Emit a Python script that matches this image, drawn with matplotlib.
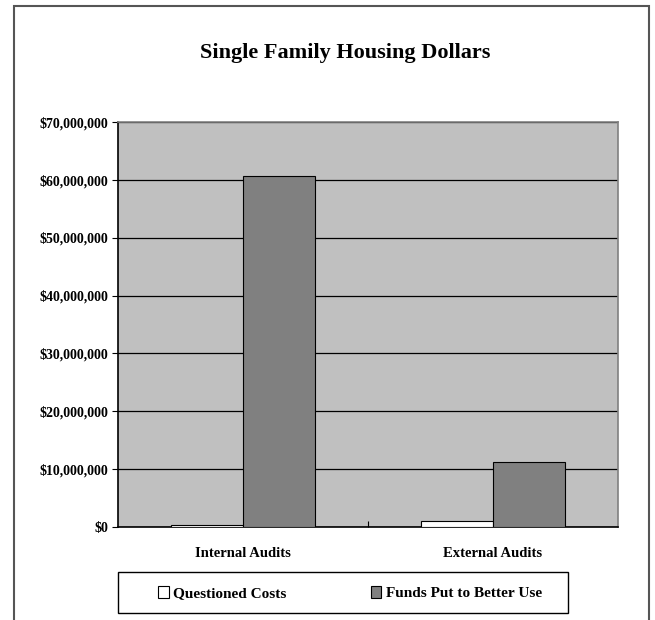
import matplotlib.pyplot as plt
import numpy as np
from matplotlib.patches import Rectangle

categories = ["Internal Audits", "External Audits"]
questioned_costs = [350000, 1100000]
funds_better_use = [60600000, 11300000]
series_names = ["Questioned Costs", "Funds Put to Better Use"]
y_ticks = [0, 10000000, 20000000, 30000000, 40000000, 50000000, 60000000, 70000000]
y_labels = ["$0", "$10,000,000", "$20,000,000", "$30,000,000", "$40,000,000",
            "$50,000,000", "$60,000,000", "$70,000,000"]

plt.rcParams['font.family'] = ['Liberation Serif', 'DejaVu Serif']
plt.rcParams['font.weight'] = 'bold'

fig = plt.figure(figsize=(6.55, 6.2), dpi=100)
W, H = 655, 620

# outer chart frame (runs off the bottom)
fig.add_artist(Rectangle((14 / W, -0.05), (649 - 14) / W, (1 - 6 / H) + 0.05,
                         transform=fig.transFigure, fill=False,
                         edgecolor="#555555", linewidth=1.5))

ax = fig.add_axes([118 / W, 1 - 527 / H, (618 - 118) / W, (527 - 122) / H])
ax.set_facecolor("#c0c0c0")

x = np.arange(len(categories))
w = 0.288
ax.bar(x - w / 2, questioned_costs, w, color="white", edgecolor="black",
       linewidth=0.8, label=series_names[0], zorder=3)
ax.bar(x + w / 2, funds_better_use, w, color="#808080", edgecolor="black",
       linewidth=0.8, label=series_names[1], zorder=3)

ax.set_xlim(-0.5, 1.5)
ax.set_ylim(0, 70000000)
ax.set_yticks(y_ticks)
ax.set_yticklabels(y_labels, fontsize=10, fontweight='bold')
ax.yaxis.grid(True, color="black", linewidth=0.9, zorder=1)
ax.set_axisbelow(True)

ax.set_xticks([0.5])
ax.set_xticklabels([""])
ax.tick_params(axis='x', direction='in', length=4, color="black")
ax.tick_params(axis='y', direction='out', length=4, color="black", pad=3)
for i, c in enumerate(categories):
    ax.text(x[i], -0.065, c, transform=ax.get_xaxis_transform(),
            ha='center', va='center', fontsize=10.5, fontweight='bold')

for s in ["top", "right"]:
    ax.spines[s].set_color("#808080")
    ax.spines[s].set_linewidth(1.2)
for s in ["left", "bottom"]:
    ax.spines[s].set_color("black")
    ax.spines[s].set_linewidth(1.2)

fig.text(345 / W, 1 - 53 / H, "Single Family Housing Dollars",
         ha='center', va='center', fontsize=16, fontweight='bold')

# legend box drawn separately so its padding matches the original
fig.add_artist(Rectangle((118 / W, 1 - 613 / H), 450 / W, 41 / H,
                         transform=fig.transFigure, fill=False,
                         edgecolor="black", linewidth=1.0))
leg = fig.legend(loc='center', bbox_to_anchor=(350 / W, 1 - 593 / H),
                 ncol=2, frameon=False, fontsize=11, handlelength=0.7,
                 handleheight=0.9, columnspacing=5.5, handletextpad=0.3)

fig.savefig("out.png", dpi=100)
